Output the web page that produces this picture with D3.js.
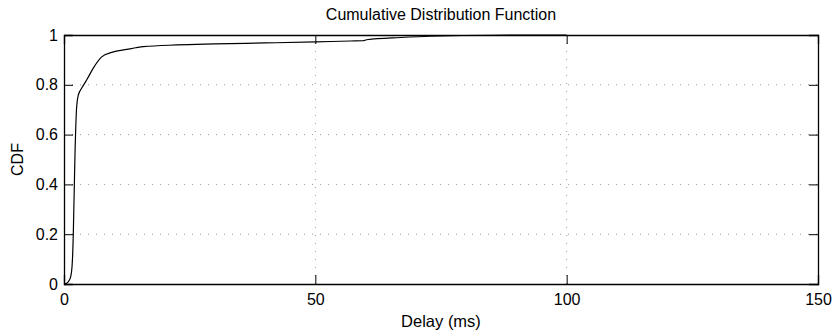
<!DOCTYPE html>
<html>
<head>
<meta charset="utf-8">
<script src="https://cdn.jsdelivr.net/npm/d3@7"></script>
<style>
  body { margin: 0; background: #fff; }
  text { font-family: "Liberation Sans", Arial, sans-serif; fill: #000; }
</style>
</head>
<body>
<script>
// delay values (ms) and the CDF
var delay = [0, 0.4, 0.86, 1.33, 1.6, 1.73, 1.85, 2.19, 2.52, 2.85, 3.5, 4.5, 5.8, 7.5, 9.5,
             12.5, 15.8, 22.4, 30, 40, 50, 57, 59.5, 60.2, 67, 75, 85, 100];
var cdf   = [0, 0.002, 0.009, 0.03, 0.07, 0.12, 0.2, 0.525, 0.712, 0.759, 0.786, 0.819, 0.866, 0.912, 0.93,
             0.942, 0.953, 0.96, 0.964, 0.968, 0.972, 0.976, 0.977, 0.981, 0.99, 0.996, 0.999, 1];
var xTicks = [0, 50, 100, 150];
var yTicks = [0, 0.2, 0.4, 0.6, 0.8, 1];

var W = 837, H = 335;
var m = {left: 64, right: 19, top: 35, bottom: 51};

var svg = d3.select("body").append("svg")
  .attr("width", W).attr("height", H);

var x = d3.scaleLinear().domain([0, 150]).range([m.left, W - m.right]);
var y = d3.scaleLinear().domain([0, 1]).range([H - m.bottom, m.top]);

// dotted grid
svg.append("g").selectAll("line.gx")
  .data(xTicks.slice(1, -1)).enter().append("line")
  .attr("x1", d => x(d)).attr("x2", d => x(d))
  .attr("y1", y(0)).attr("y2", y(1))
  .attr("stroke", "#999").attr("stroke-dasharray", "1,7");
svg.append("g").selectAll("line.gy")
  .data(yTicks.slice(1, -1)).enter().append("line")
  .attr("x1", x(0)).attr("x2", x(150))
  .attr("y1", d => y(d)).attr("y2", d => y(d))
  .attr("stroke", "#999").attr("stroke-dasharray", "1,7");

// axes, ticks pointing inside (matlab style)
var tk = 9;
var axB = svg.append("g").attr("transform", "translate(0," + y(0) + ")")
  .call(d3.axisBottom(x).tickValues(xTicks).tickSize(-tk).tickPadding(10));
var axT = svg.append("g").attr("transform", "translate(0," + y(1) + ")")
  .call(d3.axisTop(x).tickValues(xTicks).tickSize(-tk).tickFormat(""));
var axL = svg.append("g").attr("transform", "translate(" + x(0) + ",0)")
  .call(d3.axisLeft(y).tickValues(yTicks).tickSize(-tk).tickPadding(6)
        .tickFormat(d3.format("~g")));
var axR = svg.append("g").attr("transform", "translate(" + x(150) + ",0)")
  .call(d3.axisRight(y).tickValues(yTicks).tickSize(-tk).tickFormat(""));

[axB, axT, axL, axR].forEach(function(a) {
  a.select(".domain").attr("stroke", "#000").attr("stroke-width", 1.3);
  a.selectAll(".tick line").attr("stroke", "#000");
  a.selectAll("text").style("font-size", "16px")
    .style("font-family", "Liberation Sans, Arial, sans-serif");
});

// the curve
var line = d3.line().x((d, i) => x(delay[i])).y(d => y(d)).curve(d3.curveMonotoneX);
svg.append("path").datum(cdf)
  .attr("d", line).attr("fill", "none")
  .attr("stroke", "#000").attr("stroke-width", 1.2);

// labels
svg.append("text").attr("x", (x(0) + x(150)) / 2).attr("y", 20)
  .attr("text-anchor", "middle").style("font-size", "16px")
  .text("Cumulative Distribution Function");
svg.append("text").attr("x", (x(0) + x(150)) / 2).attr("y", 327)
  .attr("text-anchor", "middle").style("font-size", "16.5px")
  .text("Delay (ms)");
svg.append("text").attr("transform", "translate(23," + (y(0.5)) + ") rotate(-90)")
  .attr("text-anchor", "middle").style("font-size", "16px")
  .text("CDF");
</script>
</body>
</html>
